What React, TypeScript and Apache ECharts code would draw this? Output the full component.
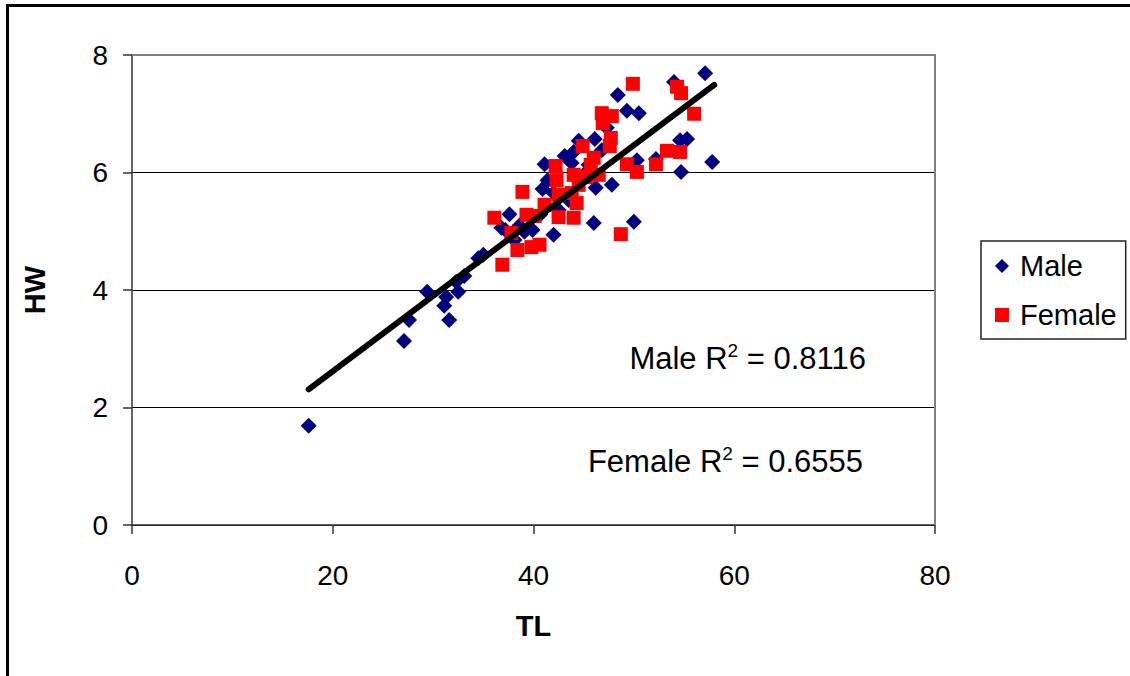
import React, { useEffect, useRef } from "react";
import * as echarts from "echarts";

// Male: [TL, HW]
const maleData: number[][] = [
  [17.6, 1.69], [27.1, 3.13], [27.6, 3.49], [29.4, 3.97], [31.1, 3.73],
  [31.3, 3.88], [31.6, 3.49], [32.3, 4.14], [32.5, 3.97], [33.1, 4.24],
  [34.5, 4.54], [35.0, 4.6], [36.8, 5.06], [37.2, 5.02], [37.6, 5.29],
  [38.1, 4.85], [38.6, 5.1], [39.1, 4.99], [39.9, 5.02], [40.7, 5.29],
  [40.9, 5.72], [41.1, 6.14], [41.4, 5.87], [42.0, 5.65], [42.0, 4.94],
  [42.5, 5.36], [43.1, 6.28], [43.5, 5.53], [43.8, 6.16], [44.0, 6.35],
  [44.5, 6.54], [45.0, 5.96], [45.5, 6.13], [46.0, 5.14], [46.1, 6.57],
  [46.2, 5.74], [46.8, 6.38], [47.3, 6.76], [47.8, 5.79], [48.4, 7.32],
  [49.3, 7.05], [50.5, 7.01], [50.0, 5.16], [50.3, 6.21], [52.2, 6.23],
  [54.0, 7.54], [54.6, 6.55], [55.3, 6.57], [54.7, 6.01], [57.1, 7.69],
  [57.8, 6.18]
];

// Female: [TL, HW]
const femaleData: number[][] = [
  [54.6, 8.02], [49.9, 7.51], [54.3, 7.46], [54.7, 7.35], [56.0, 7.0],
  [46.8, 7.01], [47.8, 6.96], [46.9, 6.84], [47.7, 6.59], [47.6, 6.45],
  [44.9, 6.45], [53.3, 6.37], [54.6, 6.35], [52.2, 6.14], [49.3, 6.14],
  [50.3, 6.01], [46.0, 6.25], [46.5, 5.96], [45.2, 5.92], [44.0, 5.96],
  [42.2, 6.11], [42.3, 5.87], [42.5, 5.62], [43.8, 5.65], [44.3, 5.48],
  [42.5, 5.24], [44.0, 5.23], [41.1, 5.45], [38.9, 5.67], [36.1, 5.23],
  [39.3, 5.28], [40.1, 5.26], [37.8, 4.97], [38.4, 4.68], [39.8, 4.73],
  [40.6, 4.77], [36.9, 4.43], [48.7, 4.95], [45.7, 6.13], [44.5, 5.79]
];

// Fitted trend line end points [TL, HW]
const trendLine: number[][] = [
  [17.6, 2.31],
  [58.0, 7.49]
];

const xTicks = { min: 0, max: 80, interval: 20 };
const yTicks = { min: 0, max: 8, interval: 2 };

const maleR2 = ["Male R", "2", " = 0.8116"];
const femaleR2 = ["Female R", "2", " = 0.6555"];

const FONT = "Liberation Sans, Arial, sans-serif";

const r2Rich = {
  a: { fontSize: 31, lineHeight: 35, fontFamily: FONT, fill: "#000", color: "#000" },
  s: { fontSize: 19, lineHeight: 22, fontFamily: FONT, fill: "#000", color: "#000", verticalAlign: "top" }
};

export default function App() {
  const ref = useRef<HTMLDivElement>(null);

  useEffect(() => {
    if (!ref.current) return;
    const chart = echarts.init(ref.current, undefined, { renderer: "svg" });
    const gridL = 132, gridT = 55, gridW = 803, gridH = 470;
    chart.setOption({
      animation: false,
      backgroundColor: "#ffffff",
      textStyle: { fontFamily: FONT },
      grid: { left: gridL, top: gridT, width: gridW, height: gridH },
      legend: {
        orient: "vertical",
        left: 981,
        top: 241,
        borderColor: "#222",
        borderWidth: 1.5,
        padding: [10, 9, 9, 14],
        itemGap: 19,
        itemWidth: 14,
        itemHeight: 14,
        textStyle: { fontSize: 29, lineHeight: 30, color: "#000", fontFamily: FONT, padding: [0, 0, 0, 6] },
        data: [
          { name: "Male", icon: "diamond" },
          { name: "Female", icon: "rect" }
        ]
      },
      xAxis: {
        type: "value",
        min: xTicks.min,
        max: xTicks.max,
        interval: xTicks.interval,
        name: "TL",
        nameLocation: "middle",
        nameGap: 86,
        nameTextStyle: { fontSize: 29, fontWeight: "bold", color: "#000", fontFamily: FONT },
        axisLine: { show: true, onZero: false, lineStyle: { color: "#333", width: 1.5 } },
        axisTick: { show: true, length: 9, lineStyle: { color: "#333", width: 1.5 } },
        axisLabel: { fontSize: 28, color: "#000", margin: 36, fontFamily: FONT },
        splitLine: { show: false }
      },
      yAxis: {
        type: "value",
        min: yTicks.min,
        max: yTicks.max,
        interval: yTicks.interval,
        name: "HW",
        nameLocation: "middle",
        nameRotate: 90,
        nameGap: 83,
        nameTextStyle: { fontSize: 29, fontWeight: "bold", color: "#000", fontFamily: FONT },
        axisLine: { show: true, onZero: false, lineStyle: { color: "#333", width: 1.5 } },
        axisTick: { show: true, length: 9, lineStyle: { color: "#333", width: 1.5 } },
        axisLabel: { fontSize: 28, color: "#000", margin: 24, fontFamily: FONT },
        splitLine: { show: true, lineStyle: { color: "#000", width: 1 } }
      },
      series: [
        {
          name: "Male",
          type: "scatter",
          symbol: "diamond",
          symbolSize: 16,
          itemStyle: { color: "#000080", opacity: 1 },
          data: maleData,
          z: 2
        },
        {
          name: "Female",
          type: "scatter",
          symbol: "rect",
          symbolSize: 14,
          itemStyle: { color: "#ff0000", opacity: 1 },
          data: femaleData,
          z: 3
        },
        {
          name: "Trend",
          type: "line",
          data: trendLine,
          symbol: "none",
          lineStyle: { color: "#000", width: 6, cap: "round" },
          z: 4,
          silent: true
        }
      ],
      graphic: [
        {
          type: "polyline",
          shape: { points: [[gridL, gridT], [gridL + gridW, gridT], [gridL + gridW, gridT + gridH]] },
          style: { stroke: "#808080", lineWidth: 2, fill: "none" },
          z: 1
        },
        {
          type: "rect",
          shape: { x: 7.5, y: 5.5, width: 1140, height: 700 },
          style: { stroke: "#000", lineWidth: 3, fill: "none" },
          z: 1
        },
        {
          type: "text",
          x: 866,
          y: 358,
          style: {
            text: `{a|${maleR2[0]}}{s|${maleR2[1]}}{a|${maleR2[2]}}`,
            rich: r2Rich,
            textAlign: "right",
            textVerticalAlign: "middle"
          },
          z: 10
        },
        {
          type: "text",
          x: 863,
          y: 461,
          style: {
            text: `{a|${femaleR2[0]}}{s|${femaleR2[1]}}{a|${femaleR2[2]}}`,
            rich: r2Rich,
            textAlign: "right",
            textVerticalAlign: "middle"
          },
          z: 10
        }
      ]
    });
    return () => chart.dispose();
  }, []);

  return (
    <div
      ref={ref}
      style={{ position: "fixed", left: 0, top: 0, width: 1130, height: 676 }}
    />
  );
}
